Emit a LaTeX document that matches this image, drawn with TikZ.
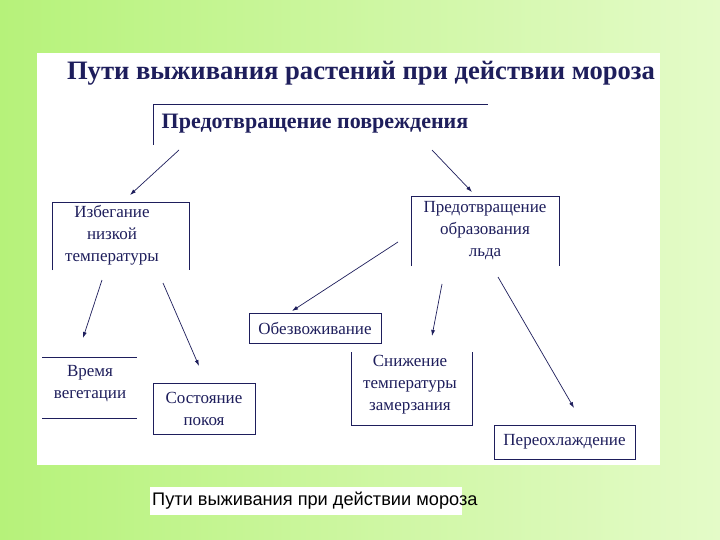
\documentclass[tikz,border=0pt]{standalone}
\usepackage{fontspec}
\setmainfont{Liberation Serif}
\newfontfamily\capfont{Liberation Sans}
\definecolor{ink}{HTML}{1E1E5C}
\definecolor{gA}{HTML}{B6F27A}
\definecolor{gB}{HTML}{E4FBC8}
\begin{document}
\begin{tikzpicture}[x=1pt,y=-1pt,
  ln/.style={draw=ink,line width=0.7pt},
  arr/.style={ink,line width=0.7pt,-{Latex[length=6pt,width=4pt]}},
  txt/.style={text=ink,font=\fontsize{17}{22}\selectfont,align=center,inner sep=0pt}]
\usetikzlibrary{arrows.meta}
\shade[left color=gA,right color=gB] (0,0) rectangle (720,540);
\useasboundingbox (0,0) rectangle (720,540);
\fill[white] (37,53) rectangle (660,465);
\node[txt,font=\fontsize{26.6}{28}\selectfont\bfseries] (title) at (361,73) {Пути выживания растений при действии мороза};
% top box
\draw[ln] (153,145) -- (153,104) -- (488,104);
\node[txt,font=\fontsize{22}{24}\selectfont\bfseries] (top) at (315,124) {Предотвращение повреждения};
% avoid
\draw[ln] (52,270) -- (52,202) -- (189,202) -- (189,270);
\node[txt] (avoid) at (112,235) {Избегание\\низкой\\температуры};
% prevent ice
\draw[ln] (411,266) -- (411,196) -- (559,196) -- (559,266);
\node[txt] (ice) at (485,231) {Предотвращение\\образования\\льда};
% dehydration
\node[txt,draw=ink,line width=0.7pt,minimum width=132pt,minimum height=30pt] (dehy) at (315,328) {Обезвоживание};
% vegetation
\draw[ln] (42,357) -- (137,357);
\draw[ln] (42,418) -- (137,418);
\node[txt] (veg) at (90,384) {Время\\вегетации};
% dormancy
\node[txt,draw=ink,line width=0.7pt,minimum width=102pt,minimum height=51pt] (dorm) at (204,408.5) {Состояние\\покоя};
% lowering
\draw[ln] (351,352) -- (351,425) -- (472,425) -- (472,352);
\node[txt] (low) at (410,385) {Снижение\\температуры\\замерзания};
% supercooling
\node[txt,draw=ink,line width=0.7pt,minimum width=141pt,minimum height=34pt] (super) at (564.5,442) {Переохлаждение};
% arrows
\coordinate (a1) at (179,150); \coordinate (b1) at (130,195);
\coordinate (a2) at (432,150); \coordinate (b2) at (472,192);
\coordinate (a3) at (102,280); \coordinate (b3) at (83,338);
\coordinate (a4) at (163,283); \coordinate (b4) at (199,366);
\coordinate (a5) at (398,242); \coordinate (b5) at (292,311);
\coordinate (a6) at (442,284); \coordinate (b6) at (432,336);
\coordinate (a7) at (498,277); \coordinate (b7) at (574,408);
\foreach \i in {1,...,7} \draw[arr] (a\i) -- (b\i);
% caption
\fill[white] (150,487) rectangle (462,515);
\node[inner sep=0pt,font=\capfont\fontsize{18.2}{20}\selectfont,anchor=west] (cap) at (152,501) {Пути выживания при действии мороза};
\end{tikzpicture}
\end{document}
